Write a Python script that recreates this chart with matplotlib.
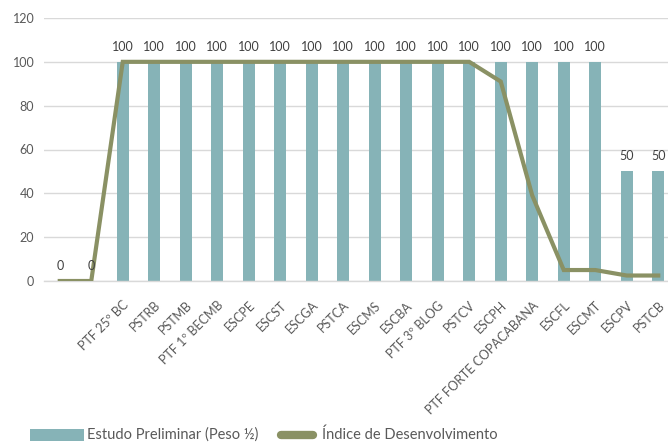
import matplotlib
matplotlib.use("Agg")
import matplotlib.pyplot as plt
from matplotlib.patches import Rectangle
from matplotlib.lines import Line2D

plt.rcParams['font.family'] = ['Lato', 'DejaVu Sans']

categories = ['', '', 'PTF 25º BC', 'PSTRB', 'PSTMB', 'PTF 1º BECMB', 'ESCPE', 'ESCST',
              'ESCGA', 'PSTCA', 'ESCMS', 'ESCBA', 'PTF 3º BLOG', 'PSTCV', 'ESCPH',
              'PTF FORTE COPACABANA', 'ESCFL', 'ESCMT', 'ESCPV', 'PSTCB']
estudo_preliminar = [0, 0, 100, 100, 100, 100, 100, 100, 100, 100, 100, 100,
                     100, 100, 100, 100, 100, 100, 50, 50]
indice_desenvolvimento = [0, 0, 100, 100, 100, 100, 100, 100, 100, 100, 100, 100,
                          100, 100, 91, 39, 5, 5, 2.5, 2.5]
y_ticks = [0, 20, 40, 60, 80, 100, 120]

bar_color = '#86b3b7'
line_color = '#8a9164'
text_color = '#595959'
grid_color = '#d9d9d9'

W, H = 668, 443
fig = plt.figure(figsize=(W / 100, H / 100), dpi=100)
ax = fig.add_axes([44 / W, (H - 281) / H, 630 / W, 263 / H])

x = list(range(len(categories)))
ax.bar(x, estudo_preliminar, width=0.38, color=bar_color, zorder=2)
ax.plot(x, indice_desenvolvimento, color=line_color, linewidth=3.0, zorder=3,
        solid_joinstyle='miter')

for xi, v in zip(x, estudo_preliminar):
    ax.annotate(f'{v:g}', (xi, v), xytext=(0, 11), textcoords='offset points',
                ha='center', va='center', fontsize=9, color='#404040')

ax.set_xlim(-0.5, len(categories) - 0.5)
ax.set_ylim(0, 120)
ax.set_yticks(y_ticks)
ax.set_xticks(x)
ax.set_xticklabels(categories, rotation=45, ha='right', va='top',
                   rotation_mode='anchor', fontsize=9, color=text_color)
ax.tick_params(axis='x', length=0, pad=13)
ax.tick_params(axis='y', length=0, pad=7, labelsize=9, labelcolor=text_color)
ax.yaxis.grid(True, color=grid_color, linewidth=1.0, zorder=0)
ax.set_axisbelow(True)
for side in ['top', 'right', 'left']:
    ax.spines[side].set_visible(False)
ax.spines['bottom'].set_color(grid_color)
ax.spines['bottom'].set_linewidth(1.0)

# legend drawn in figure pixel coordinates
def px(xp, yp):
    return xp / W, 1 - yp / H

ly = 435
x0, y0 = px(30, ly + 6)
fig.patches.append(Rectangle((x0, y0), 54 / W, 12 / H, transform=fig.transFigure,
                             facecolor=bar_color, edgecolor='none'))
fig.text(*px(87, ly), 'Estudo Preliminar (Peso ½)', fontsize=10.5, color=text_color,
         ha='left', va='center')
lx0, lyf = px(281, ly)
lx1, _ = px(313, ly)
fig.lines.append(Line2D([lx0, lx1], [lyf, lyf], transform=fig.transFigure,
                        color=line_color, linewidth=6, solid_capstyle='round'))
fig.text(*px(322, ly), 'Índice de Desenvolvimento', fontsize=10.5, color=text_color,
         ha='left', va='center')

fig.savefig('out.png', dpi=100)
